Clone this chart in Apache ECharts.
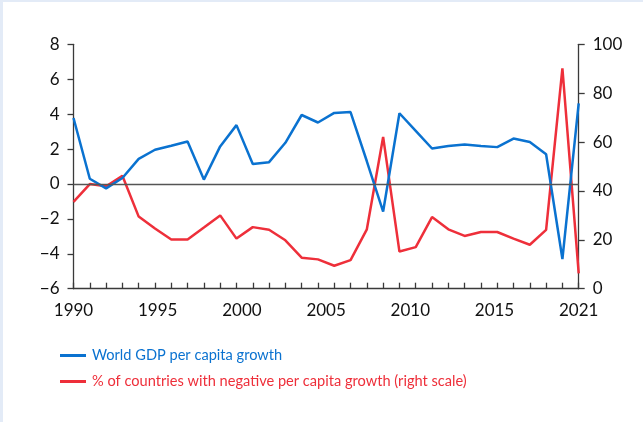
<!DOCTYPE html>
<html>
<head>
<meta charset="utf-8">
<script src="https://cdn.jsdelivr.net/npm/echarts@6/dist/echarts.min.js"></script>
<style>
  html, body { margin: 0; padding: 0; background: #ffffff; }
  #chart { position: absolute; left: 0; top: 0; width: 643px; height: 422px; }
  .bt { position: absolute; left: 0; top: 0; width: 643px; height: 2px; background: #e3ebf7; z-index: 5; }
  .bl { position: absolute; left: 0; top: 0; width: 3px; height: 422px; background: #e3ebf7; z-index: 5; }
</style>
</head>
<body>
<div id="chart"></div>
<div class="bt"></div>
<div class="bl"></div>
<script>
// ---- data ----
const years = ['1990','1991','1992','1993','1994','1995','1996','1997','1998','1999',
               '2000','2001','2002','2003','2004','2005','2006','2007','2008','2009',
               '2010','2011','2012','2013','2014','2015','2016','2017','2018','2019',
               '2020','2021'];
const gdpGrowth = [3.78, 0.30, -0.25, 0.34, 1.44, 1.96, 2.19, 2.43, 0.25, 2.15,
                   3.37, 1.14, 1.25, 2.36, 3.95, 3.52, 4.07, 4.12, 1.30, -1.58,
                   4.05, 3.04, 2.03, 2.17, 2.26, 2.17, 2.11, 2.60, 2.40, 1.70,
                   -4.30, 4.62];
const negShare = [35.5, 42.8, 41.9, 46.2, 29.5, 24.6, 20.1, 20.1, 25.0, 30.0,
                  20.5, 25.2, 24.1, 19.8, 12.7, 12.0, 9.4, 11.7, 24.3, 62.1,
                  15.2, 17.0, 29.3, 24.3, 21.6, 23.2, 23.2, 20.5, 18.0, 24.1,
                  90.2, 6.3];
const xTickLabels = ['1990','1995','2000','2005','2010','2015','2021'];
const seriesNames = ['World GDP per capita growth',
                     '% of countries with negative per capita growth (right scale)'];

const BLUE = '#0a72d0';
const RED = '#ee2f3a';
const AXIS = '#3a3a3a';
const FONT = 'Lato';

const chart = echarts.init(document.getElementById('chart'), null, { renderer: 'canvas' });
const minusFmt = v => String(v).replace('-', '\u2212');

chart.setOption({
  animation: false,
  backgroundColor: '#ffffff',
  grid: { left: 73.5, right: 64.3, top: 44.3, bottom: 133.3, containLabel: false },
  legend: {
    data: [
      { name: seriesNames[0], textStyle: { color: BLUE } },
      { name: seriesNames[1], textStyle: { color: RED } }
    ],
    orient: 'vertical',
    left: 60, top: 348, padding: 0,
    itemWidth: 26, itemHeight: 3, itemGap: 11,
    icon: 'rect',
    textStyle: { fontFamily: FONT, fontSize: 14.6, padding: [0, 0, 0, 1] },
    selectedMode: false
  },
  xAxis: [
    {
      type: 'category', data: years, boundaryGap: false, position: 'bottom',
      axisLine: { onZero: false, lineStyle: { color: AXIS, width: 1.3 } },
      axisTick: { inside: true, length: 6, interval: 0, lineStyle: { color: AXIS, width: 1.3 } },
      axisLabel: { show: false }, splitLine: { show: false }
    },
    {
      type: 'category', data: xTickLabels, boundaryGap: false, position: 'bottom',
      axisLine: { show: false }, axisTick: { show: false }, splitLine: { show: false },
      axisLabel: { interval: 0, margin: 13, color: '#111', fontFamily: FONT, fontSize: 17 }
    }
  ],
  yAxis: [
    {
      type: 'value', min: -6, max: 8, interval: 2, position: 'left',
      axisLine: { show: true, lineStyle: { color: AXIS, width: 1.3 } },
      axisTick: { show: true, length: 6, lineStyle: { color: AXIS, width: 1.3 } },
      axisLabel: { margin: 14, color: '#111', fontFamily: FONT, fontSize: 17, formatter: minusFmt },
      splitLine: { show: false }
    },
    {
      type: 'value', min: 0, max: 100, interval: 20, position: 'right',
      axisLine: { show: true, lineStyle: { color: AXIS, width: 1.3 } },
      axisTick: { show: true, length: 6, lineStyle: { color: AXIS, width: 1.3 } },
      axisLabel: { margin: 14, color: '#111', fontFamily: FONT, fontSize: 17 },
      splitLine: { show: false }
    }
  ],
  series: [
    {
      name: seriesNames[0], type: 'line', xAxisIndex: 0, yAxisIndex: 0,
      data: gdpGrowth, showSymbol: false, symbol: 'none',
      lineStyle: { color: BLUE, width: 2.5 }, itemStyle: { color: BLUE },
      markLine: {
        silent: true, symbol: 'none', label: { show: false },
        lineStyle: { color: '#555', width: 1.3, type: 'solid' },
        data: [{ yAxis: 0 }]
      },
      z: 3
    },
    {
      name: seriesNames[1], type: 'line', xAxisIndex: 0, yAxisIndex: 1,
      data: negShare, showSymbol: false, symbol: 'none',
      lineStyle: { color: RED, width: 2.5 }, itemStyle: { color: RED },
      z: 2
    }
  ]
});
</script>
</body>
</html>
